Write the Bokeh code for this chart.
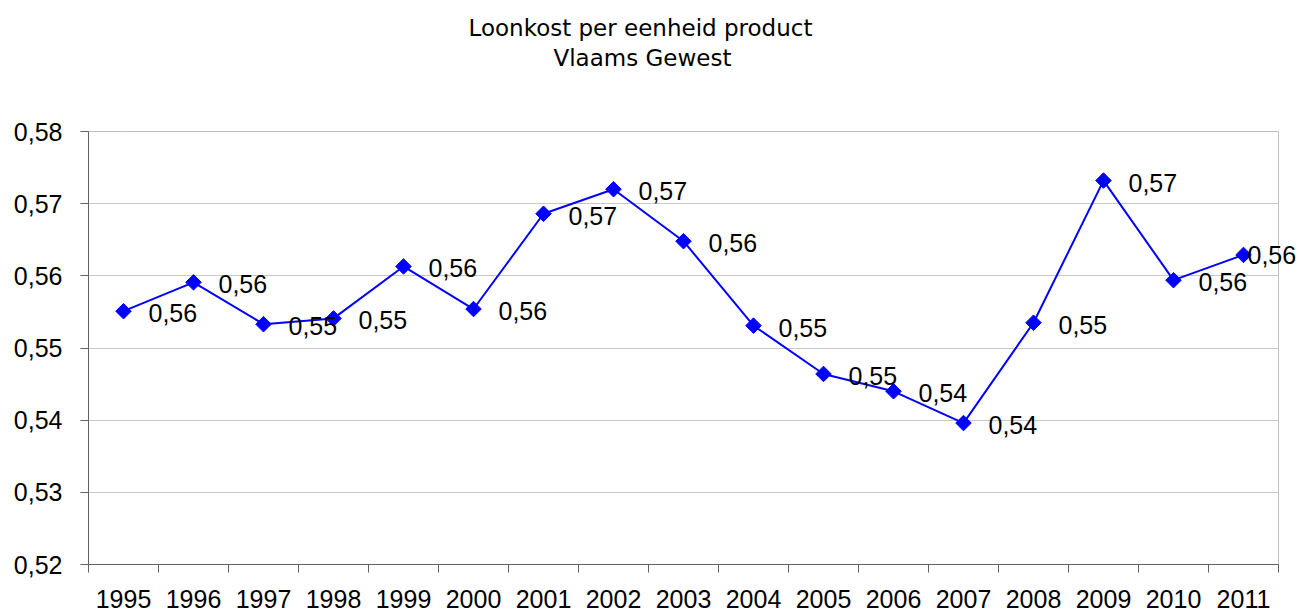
import numpy as np
from bokeh.plotting import figure
from bokeh.models import (ColumnDataSource, Range1d, FixedTicker, CustomJSTickFormatter,
                          LabelSet, Title, LinearAxis)
from bokeh.core.properties import value
from bokeh.embed import file_html
from bokeh.resources import INLINE

# ---- data ----
title_lines = ["Loonkost per eenheid product", "Vlaams Gewest"]
years = [1995, 1996, 1997, 1998, 1999, 2000, 2001, 2002, 2003, 2004,
         2005, 2006, 2007, 2008, 2009, 2010, 2011]
loonkost = [0.5551, 0.5591, 0.5533, 0.5541, 0.5613, 0.5554, 0.5686, 0.5720, 0.5648,
            0.5531, 0.5464, 0.5440, 0.5396, 0.5535, 0.5732, 0.5594, 0.5629]
y_ticks = [0.52, 0.53, 0.54, 0.55, 0.56, 0.57, 0.58]

labels = [f"{v:.2f}".replace(".", ",") for v in loonkost]

src = ColumnDataSource(dict(year=years, val=loonkost))
# all data labels but the last (the last one overhangs the plot edge, drawn by a side axis)
lab_src = ColumnDataSource(dict(year=years[:-1], val=loonkost[:-1], lab=labels[:-1]))

NUM_FONT = "Liberation Sans"
TITLE_FONT = "DejaVu Sans"
AXIS_COL = "#606060"

p = figure(width=1300, height=612, output_backend="svg", toolbar_location=None,
           x_range=Range1d(years[0] - 0.5, years[-1] + 0.5),
           y_range=Range1d(y_ticks[0], y_ticks[-1]),
           min_border_left=88, min_border_right=22, min_border_top=131, min_border_bottom=48)

p.background_fill_color = "white"
p.border_fill_color = "white"
p.outline_line_color = "#c0c0c0"
p.outline_line_width = 1

# grid
p.xgrid.visible = False
p.ygrid.grid_line_color = "#c8c8c8"
p.ygrid.grid_line_width = 1

# x axis (labels centred on the years, tick marks between categories)
xa = p.xaxis[0]
xa.ticker = FixedTicker(ticks=years, minor_ticks=[y - 0.5 for y in years] + [years[-1] + 0.5])
xa.major_tick_out = 0
xa.major_tick_in = 0
xa.minor_tick_out = 8
xa.minor_tick_in = 0
xa.minor_tick_line_color = AXIS_COL
xa.axis_line_color = AXIS_COL
xa.major_label_text_font = NUM_FONT
xa.major_label_text_font_size = "25px"
xa.major_label_text_color = "black"
xa.major_label_standoff = 17

# y axis
ya = p.yaxis[0]
ya.ticker = FixedTicker(ticks=y_ticks)
ya.formatter = CustomJSTickFormatter(code="return tick.toFixed(2).replace('.', ',');")
ya.major_tick_out = 8
ya.major_tick_in = 0
ya.minor_tick_out = 0
ya.minor_tick_in = 0
ya.major_tick_line_color = AXIS_COL
ya.axis_line_color = AXIS_COL
ya.major_label_text_font = NUM_FONT
ya.major_label_text_font_size = "25px"
ya.major_label_text_color = "black"
ya.major_label_standoff = 18

# line + markers
p.line(x="year", y="val", source=src, line_color="#0000ff", line_width=2)
p.scatter(x="year", y="val", source=src, marker="square", size=11, angle=np.pi / 4,
          fill_color="#0000ff", line_color="#0000ff")

# data labels
p.add_layout(LabelSet(x="year", y="val", text="lab", source=lab_src, x_offset=25, y_offset=-2,
                      text_font=value(NUM_FONT), text_font_size="25px", text_color="black",
                      text_align="left", text_baseline="middle"))

# last data label: drawn by a line-less right axis so it can overhang the plot edge
ra = LinearAxis(ticker=FixedTicker(ticks=[loonkost[-1]]),
                formatter=CustomJSTickFormatter(args=dict(lab=labels[-1]), code="return lab;"))
ra.axis_line_color = None
ra.major_tick_line_color = None
ra.minor_tick_line_color = None
ra.major_tick_out = 0
ra.major_tick_in = 0
ra.minor_tick_out = 0
ra.minor_tick_in = 0
ra.major_label_standoff = -31
ra.major_label_text_font = NUM_FONT
ra.major_label_text_font_size = "25px"
ra.major_label_text_color = "black"
p.add_layout(ra, "right")

# empty spacer between plot and title (an axis whose only content is white tick room)
sp = LinearAxis(ticker=FixedTicker(ticks=[years[0]]),
                formatter=CustomJSTickFormatter(code="return '';"))
sp.axis_line_color = None
sp.major_tick_line_color = "white"
sp.minor_tick_line_color = None
sp.major_tick_out = 58
sp.major_tick_in = 0
sp.minor_tick_out = 0
sp.minor_tick_in = 0
sp.major_label_standoff = 0
sp.major_label_text_font_size = "1px"
p.add_layout(sp, "above")

# title lines (stacked upward)
p.add_layout(Title(text=title_lines[1], align="left", offset=465, standoff=5,
                   text_font=TITLE_FONT, text_font_size="23px", text_font_style="normal",
                   text_color="black"), "above")
p.add_layout(Title(text=title_lines[0], align="left", offset=380, standoff=0,
                   text_font=TITLE_FONT, text_font_size="23px", text_font_style="normal",
                   text_color="black"), "above")

open("out.html", "w").write(file_html(p, INLINE))
